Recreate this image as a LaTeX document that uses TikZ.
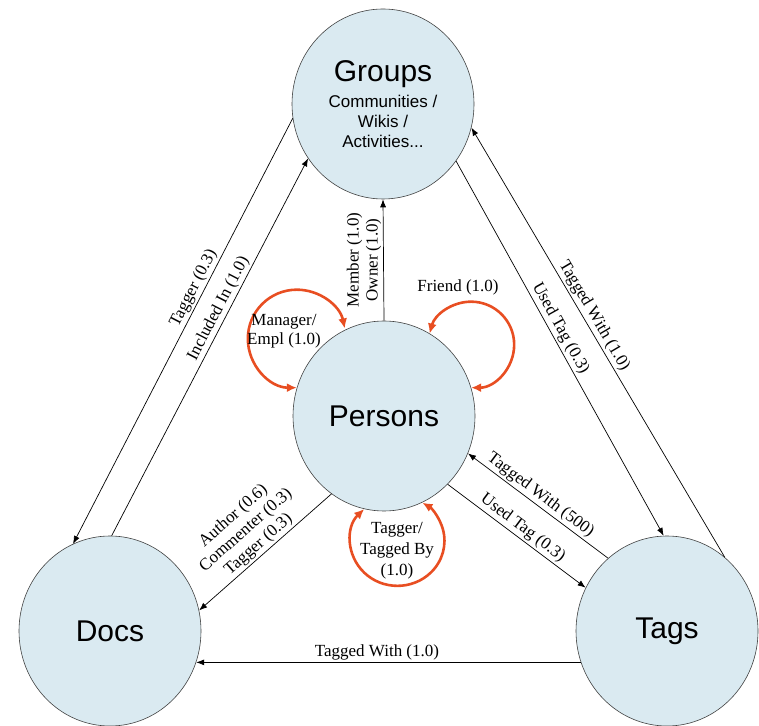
\documentclass[tikz,border=0pt]{standalone}
\usepackage{fontspec}
\setmainfont{Liberation Serif}
\newfontfamily\headfont{Liberation Sans}
\usetikzlibrary{shapes.geometric,arrows.meta}
\definecolor{bubble}{RGB}{218,234,241}
\definecolor{loopred}{RGB}{232,78,34}

\begin{document}
\begin{tikzpicture}[x=1pt,y=1pt,
	entity/.style={ellipse,draw=black!75,line width=.6pt,fill=bubble,minimum width=182pt,minimum height=190pt,inner sep=0pt,font=\headfont\fontsize{30}{32}\selectfont},
	link/.style={-{Latex[length=8pt,width=6pt]},line width=.7pt},
	lbl/.style={font=\fontsize{17}{19}\selectfont,inner sep=2pt,align=center},
	selfloop/.style={{Latex[length=10pt,width=9pt]}-{Latex[length=10pt,width=9pt]},line width=2.6pt,draw=loopred}]
			\useasboundingbox (0,0) rectangle (759,725);
			
			% draw nodes
			\node[entity,align=center,font=\headfont\fontsize{17}{20}\selectfont] (groups) at (383,621) {\fontsize{30}{32}\selectfont Groups\\[6pt]Communities /\\Wikis /\\Activities...};
			\node[entity] (persons) at (384,309) {Persons};
			\node[entity] (docs) at (110,94) {Docs};
			\node[entity] (tags) at (667,94) {Tags};
			
			% outer triangle
			\draw[link] (groups.189) -- node[lbl,pos=.41,sloped,above] (tagdoc) {Tagger (0.3)} (docs.113);
			\draw[link] (docs.89) -- node[lbl,pos=.59,sloped,above] (incl) {Included In (1.0)} (groups.216);
			\draw[link] (groups.-38) -- node[lbl,pos=.46,sloped,above] (usedgrp) {Used Tag (0.3)} (tags.92);
			\draw[link] (tags.52) -- node[lbl,pos=.55,sloped,above] (taggrp) {Tagged With (1.0)} (groups.-15.5);
			\draw[link] (tags.200.5) -- node[lbl,pos=.53,above] (tagwith) {Tagged With (1.0)} (docs.-20.5);
			
			% persons edges
			\draw[link] (persons.north) -- node[lbl,midway,rotate=90,anchor=south] (member) {Member (1.0)\\Owner (1.0)} (groups.south);
			\draw[link] (persons.236) -- node[lbl,midway,sloped,above] (author) {Author (0.6)\\Commenter (0.3)\\Tagger (0.3)} (docs.13);
			\draw[link] (tags.129) -- node[lbl,pos=.525,sloped,above] (tagpers) {Tagged With (500)} (persons.-24);
			\draw[link] (persons.-47) -- node[lbl,midway,sloped,above] (usedpers) {Used Tag (0.3)} (tags.152);
			
			% self loops
			\draw[selfloop] (persons.162.2) arc[start angle=-90,end angle=-348,radius=49];
			\draw[selfloop] (persons.18.4) arc[start angle=-90,end angle=165,radius=43];
			\draw[selfloop] (persons.258.8) arc[start angle=135,end angle=418,x radius=47,y radius=45];
			\node[lbl] (manager) at (284,394) {Manager/\\Empl (1.0)};
			\node[lbl] (friend) at (458,438) {Friend (1.0)};
			\node[lbl,font=\fontsize{17}{21}\selectfont] (tagger) at (397,174) {Tagger/\\Tagged By\\(1.0)};
		\end{tikzpicture}
\end{document}
